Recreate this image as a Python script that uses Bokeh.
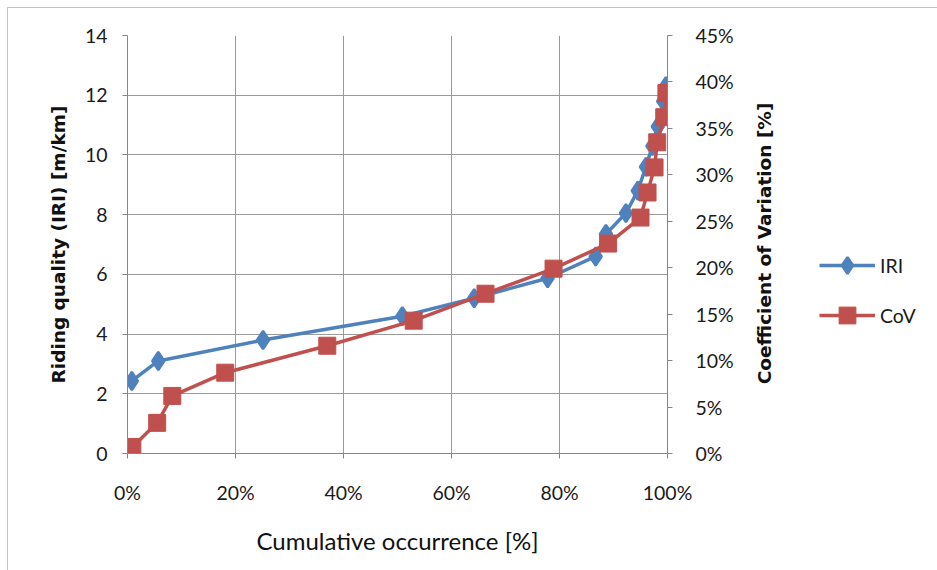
import math
from bokeh.plotting import figure
from bokeh.layouts import row
from bokeh.models import (Range1d, LinearAxis, FixedTicker, PrintfTickFormatter, Legend,
                          LegendItem, Label)
from bokeh.embed import file_html
from bokeh.resources import INLINE

# Data (cumulative occurrence in %, IRI in m/km, CoV in %)
iri_x = [0.8, 5.7, 25.1, 50.9, 64.2, 77.8, 86.7, 88.6, 92.3, 94.5, 96.0, 97.2, 98.2, 99.2, 99.7]
iri_y = [2.43, 3.10, 3.80, 4.60, 5.20, 5.87, 6.60, 7.35, 8.05, 8.80, 9.60, 10.30, 10.95, 11.80, 12.30]

cov_x = [0.9, 5.5, 8.3, 18.1, 37.0, 53.0, 66.3, 78.9, 89.0, 95.0, 96.3, 97.6, 98.1, 99.4, 99.8]
cov_y = [0.7, 3.3, 6.2, 8.7, 11.6, 14.3, 17.2, 19.9, 22.6, 25.4, 28.1, 30.8, 33.5, 36.2, 38.8]

x_ticks = [0, 20, 40, 60, 80, 100]
left_ticks = [0, 2, 4, 6, 8, 10, 12, 14]
right_ticks = [0, 5, 10, 15, 20, 25, 30, 35, 40, 45]

BLUE = "#4F81BD"
RED = "#C0504D"
GRID = "#9a9a9a"
AXIS = "#868686"
FONT = "Lato"
TFONT = "DejaVu Sans"

W1, W2, H = 734, 195, 562
MB_TOP, MB_BOTTOM = 27, 117
FRAME_H = H - MB_TOP - MB_BOTTOM

p = figure(width=W1, height=H, x_range=Range1d(0, 100), y_range=Range1d(0, 14),
           output_backend="svg", toolbar_location=None,
           min_border_left=119, min_border_right=W1 - 659,
           min_border_top=MB_TOP, min_border_bottom=MB_BOTTOM)
p.outline_line_color = None
p.background_fill_color = "white"
p.border_fill_color = "white"

p.extra_y_ranges = {"cov": Range1d(0, 45)}

# grids
p.xgrid.ticker = FixedTicker(ticks=x_ticks)
p.ygrid.ticker = FixedTicker(ticks=left_ticks)
for g in (p.xgrid, p.ygrid):
    g.grid_line_color = GRID
    g.grid_line_width = 1

# x axis
xa = p.xaxis[0]
xa.ticker = FixedTicker(ticks=x_ticks)
xa.formatter = PrintfTickFormatter(format="%d%%")
xa.axis_label = "Cumulative occurrence [%]"
xa.axis_label_text_font = FONT
xa.axis_label_text_font_style = "normal"
xa.axis_label_text_font_size = "24px"
xa.axis_label_standoff = 19
xa.major_label_standoff = 22

# left axis
ya = p.yaxis[0]
ya.ticker = FixedTicker(ticks=left_ticks)
ya.axis_label = "Riding quality (IRI) [m/km]"
ya.axis_label_text_font = TFONT
ya.axis_label_text_font_style = "bold"
ya.axis_label_text_font_size = "18.5px"
ya.axis_label_standoff = 13
ya.major_label_standoff = 15

# right axis (its title is drawn in the side panel)
ra = LinearAxis(y_range_name="cov", ticker=FixedTicker(ticks=right_ticks),
                formatter=PrintfTickFormatter(format="%d%%"))
ra.major_label_standoff = 23
p.add_layout(ra, "right")

for ax in (xa, ya, ra):
    ax.axis_line_color = AXIS
    ax.major_tick_line_color = AXIS
    ax.major_tick_out = 5
    ax.major_tick_in = 0
    ax.minor_tick_line_color = None
    ax.major_label_text_font = FONT
    ax.major_label_text_font_size = "19.5px"
    ax.major_label_text_color = "#1a1a1a"
    ax.axis_label_text_color = "#111111"

# series
p.line(iri_x, iri_y, line_color=BLUE, line_width=3.5)
p.scatter(iri_x, iri_y, marker="diamond", size=18, line_width=2.5,
          fill_color=BLUE, line_color=BLUE)
p.line(cov_x, cov_y, line_color=RED, line_width=3.5, y_range_name="cov")
p.scatter(cov_x, cov_y, marker="square", size=17, fill_color=RED, line_color=RED,
          y_range_name="cov")

# side panel: right axis title + legend (frame aligned with the main frame)
q = figure(width=W2, height=H, x_range=Range1d(0, W2), y_range=Range1d(0, FRAME_H),
           output_backend="svg", toolbar_location=None,
           x_axis_location=None, y_axis_location=None,
           min_border=0, min_border_left=0, min_border_right=0,
           min_border_top=MB_TOP, min_border_bottom=MB_BOTTOM)
q.grid.visible = False
q.outline_line_color = None
q.background_fill_color = "white"
q.border_fill_color = "white"
# ranges that keep the legend's source renderers out of view
q.extra_x_ranges = {"off": Range1d(1000, 2000)}
q.extra_y_ranges = {"offy": Range1d(1000, 2000)}

BOTTOM_ABS = MB_TOP + FRAME_H + 8

q.add_layout(Label(x=764 - 8 - W1, y=BOTTOM_ABS - 243, text="Coefficient of Variation [%]",
                   angle=math.pi / 2, text_align="center", text_baseline="middle",
                   text_font=TFONT, text_font_style="bold", text_font_size="18.5px",
                   text_color="#111111"))

ql1 = q.line(iri_x, iri_y, line_color=BLUE, line_width=3.5,
             x_range_name="off", y_range_name="offy")
qm1 = q.scatter(iri_x, iri_y, marker="diamond", size=18, line_width=2.5,
                fill_color=BLUE, line_color=BLUE, x_range_name="off", y_range_name="offy")
ql2 = q.line(cov_x, cov_y, line_color=RED, line_width=3.5,
             x_range_name="off", y_range_name="offy")
qm2 = q.scatter(cov_x, cov_y, marker="square", size=17, fill_color=RED, line_color=RED,
                x_range_name="off", y_range_name="offy")

legend = Legend(items=[LegendItem(label="IRI", renderers=[ql1, qm1]),
                       LegendItem(label="CoV", renderers=[ql2, qm2])],
                location=(819 - 8 - W1, BOTTOM_ABS - 336), orientation="vertical",
                glyph_width=56, glyph_height=42, label_height=42, spacing=8,
                label_standoff=5, padding=0, margin=0,
                border_line_color=None, background_fill_alpha=0,
                label_text_font=FONT, label_text_font_size="19.5px", label_text_color="#1a1a1a")
q.add_layout(legend, "center")

lay = row(p, q, spacing=0)
lay.margin = (7, 0, 0, 7)
lay.styles = {"border-left": "1px solid #c4c4c4", "border-top": "1px solid #c4c4c4"}

open("out.html", "w").write(file_html(lay, INLINE))
